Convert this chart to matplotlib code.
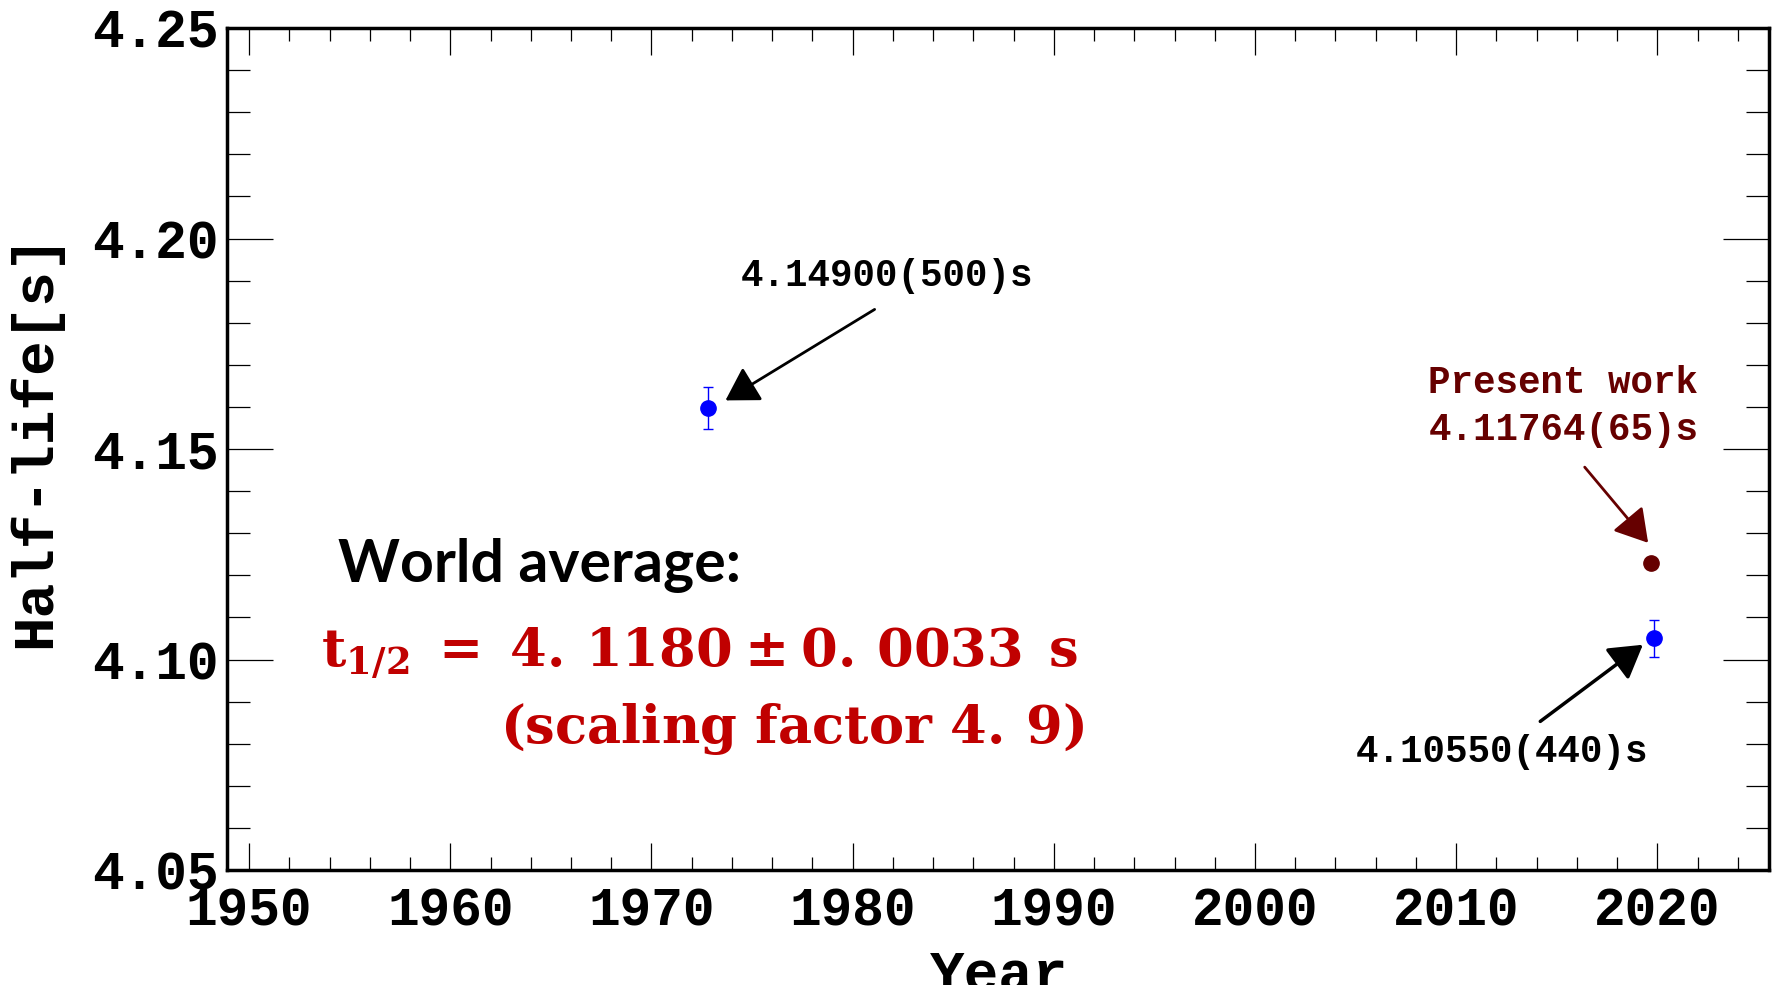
import numpy as np
import matplotlib
matplotlib.use("Agg")
import matplotlib.pyplot as plt
from matplotlib.ticker import MultipleLocator, FormatStrFormatter

# measured half-lives (as plotted)
years = [1972.8, 2019.85]
halflife = [4.1598, 4.1051]
errors = [0.0050, 0.0044]
labels = ['4.14900(500)s', '4.10550(440)s']

# present work
present_year = [2019.7]
present_val = [4.1229]
present_err = [0.00065]
present_label = ['Present work', '4.11764(65)s']

avg_title = 'World average:'
avg_line1 = r'$\mathrm{t_{1/2}\;=\;4.\,1180\:\pm\:0.\,0033\;\,s}$'
avg_line2 = r'$\mathrm{(scaling\ factor\ 4.\,9)}$'

plt.rcParams['mathtext.fontset'] = 'custom'
plt.rcParams['mathtext.rm'] = 'DejaVu Serif:bold'
plt.rcParams['mathtext.bf'] = 'DejaVu Serif:bold'
plt.rcParams['mathtext.it'] = 'DejaVu Serif:bold'

mono = 'Liberation Mono'
blue = '#0000ff'
dred = '#660000'
red = '#c00000'

fig = plt.figure(figsize=(17.79, 9.85), dpi=100)
ax = fig.add_axes([227/1779, 1-870/985, (1769-227)/1779, (870-28)/985])

ax.errorbar(years, halflife, yerr=errors, fmt='o', color=blue, ms=11,
            elinewidth=1, capsize=3.5, capthick=1)
ax.errorbar(present_year, present_val, yerr=present_err, fmt='o', color=dred,
            ms=11, elinewidth=1, capsize=0)

ax.set_xlim(1948.9, 2025.55)
ax.set_ylim(4.05, 4.25)
ax.xaxis.set_major_locator(MultipleLocator(10))
ax.xaxis.set_minor_locator(MultipleLocator(2))
ax.yaxis.set_major_locator(MultipleLocator(0.05))
ax.yaxis.set_minor_locator(MultipleLocator(0.01))
ax.yaxis.set_major_formatter(FormatStrFormatter('%.2f'))

ax.tick_params(axis='x', which='major', direction='in', length=19.5, width=0.9,
               top=True, pad=11.5)
ax.tick_params(axis='x', which='minor', direction='in', length=9.5, width=0.9, top=True)
ax.tick_params(axis='y', which='major', direction='in', length=33, width=0.9,
               right=True, pad=6)
ax.tick_params(axis='y', which='minor', direction='in', length=16.5, width=0.9, right=True)
for lab in ax.get_xticklabels() + ax.get_yticklabels():
    lab.set_fontfamily(mono)
    lab.set_fontweight('bold')
    lab.set_fontsize(38)
for sp in ax.spines.values():
    sp.set_linewidth(2.5)

ax.set_xlabel('Year', fontfamily=mono, fontweight='bold', fontsize=41.5)
ax.xaxis.set_label_coords(0.501, -0.093)
ax.set_ylabel('Half-life[s]', fontfamily=mono, fontweight='bold', fontsize=41.5)
ax.yaxis.set_label_coords(-0.107, 0.51)

# annotations
tfont = dict(fontfamily=mono, fontweight='bold', fontsize=27)
ax.text(1981.7, 4.1912, labels[0], ha='center', va='center', **tfont)
ax.text(2012.3, 4.0780, labels[1], ha='center', va='center', **tfont)
ax.text(2015.33, 4.1657, present_label[0], ha='center', va='center', color=dred, **tfont)
ax.text(2015.33, 4.1545, present_label[1], ha='center', va='center', color=dred, **tfont)

astyle = '-|>,head_length=20,head_width=12'
ax.annotate('', xy=(1973.56, 4.1612), xytext=(1981.21, 4.1835),
            arrowprops=dict(arrowstyle=astyle, mutation_scale=1, color='black', lw=2))
ax.annotate('', xy=(2019.63, 4.1272), xytext=(2016.30, 4.1462),
            arrowprops=dict(arrowstyle=astyle, mutation_scale=1, color=dred, lw=2))
ax.annotate('', xy=(2019.39, 4.1039), xytext=(2014.07, 4.0849),
            arrowprops=dict(arrowstyle=astyle, mutation_scale=1, color='black', lw=2.5))

ax.text(1954.42, 4.1184, avg_title, ha='left', va='baseline', fontfamily='Lato',
        fontweight='bold', fontsize=42.5, color='black')
ax.text(1953.58, 4.0982, avg_line1, ha='left', va='baseline', fontsize=38, color=red)
ax.text(1977.0, 4.0802, avg_line2, ha='center', va='baseline', fontsize=38, color=red)

fig.savefig('out.png', dpi=100)
